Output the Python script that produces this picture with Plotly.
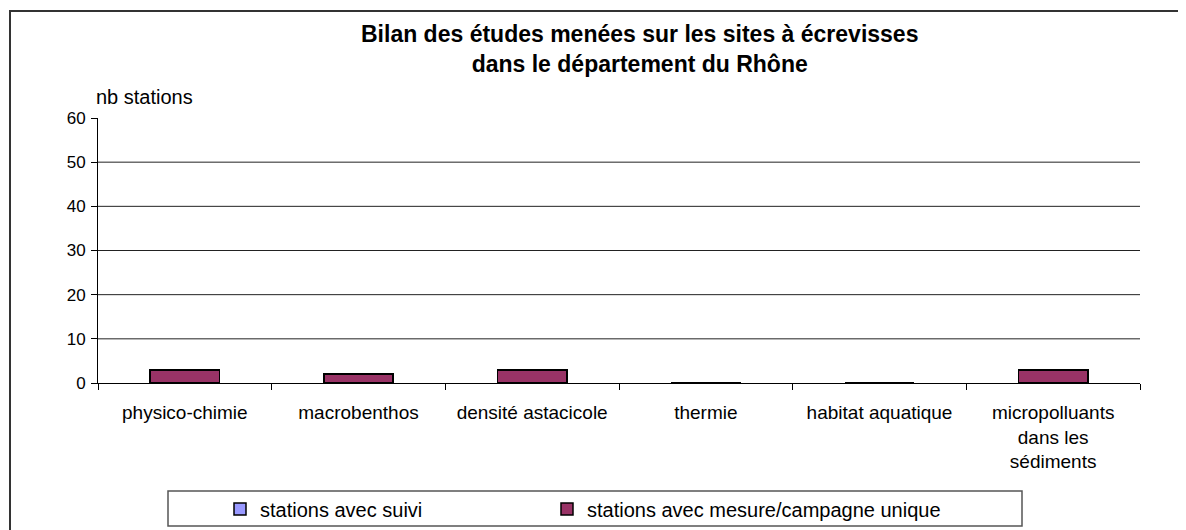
import plotly.graph_objects as go

categories = ["physico-chimie", "macrobenthos", "densité astacicole", "thermie",
              "habitat aquatique", "micropolluants<br>dans les<br>sédiments"]
suivi = [0, 0, 0, 0, 0, 0]
unique = [3, 2, 3, 0, 0, 3]
series_names = ["stations avec suivi", "stations avec mesure/campagne unique"]
title_lines = ["Bilan des études menées sur les sites à écrevisses",
               "dans le département du Rhône"]
y_title = "nb stations"
y_ticks = [0, 10, 20, 30, 40, 50, 60]
grid_vals = [10, 20, 30, 40, 50]

# page offset of the default html body margin
OFF = 8
W, H = 1186 - OFF, 530 - OFF
L, T = 98 - OFF, 118 - OFF
R = W - (1140 - OFF)
B = H - (383 - OFF)
PW, PH = W - L - R, H - T - B

def px_x(x):  # page pixel -> paper
    return (x - OFF - L) / PW

def px_y(y):
    return (H - B - (y - OFF)) / PH

FONT = "Liberation Sans, Arial, sans-serif"

fig = go.Figure()
fig.add_trace(go.Bar(x=categories, y=suivi, name=series_names[0], width=0.4, legend="legend",
                     marker=dict(color="#9999FF", line=dict(color="black", width=1.5))))
fig.add_trace(go.Bar(x=categories, y=unique, name=series_names[1], width=0.4, legend="legend2",
                     marker=dict(color="#993366", line=dict(color="black", width=1.5))))

shapes = []
for g in grid_vals:
    shapes.append(dict(type="line", xref="paper", yref="y", x0=0, x1=1, y0=g, y1=g,
                       line=dict(color="#222222", width=1), layer="below"))
# outer frame
shapes.append(dict(type="rect", xref="paper", yref="paper",
                   x0=px_x(10), x1=px_x(1230), y0=px_y(11), y1=px_y(580),
                   line=dict(color="#333333", width=2)))
# legend box
shapes.append(dict(type="rect", xref="paper", yref="paper",
                   x0=px_x(168), x1=px_x(1022), y0=px_y(491), y1=px_y(526),
                   line=dict(color="#555555", width=1.5)))

annotations = [
    dict(text="<b>%s<br>%s</b>" % (title_lines[0], title_lines[1]), xref="paper", yref="paper",
         x=px_x(639), y=px_y(49), xanchor="center", yanchor="middle", showarrow=False,
         font=dict(size=23, family=FONT, color="black")),
    dict(text=y_title, xref="paper", yref="paper", x=px_x(94), y=px_y(97),
         xanchor="left", yanchor="middle", showarrow=False,
         font=dict(size=20, family=FONT, color="black")),
]

legend_common = dict(orientation="h", xanchor="left", yanchor="middle",
                     bgcolor="rgba(0,0,0,0)", borderwidth=0, font=dict(size=20),
                     itemwidth=30)

fig.update_layout(
    width=W, height=H,
    margin=dict(l=L, r=R, t=T, b=B, autoexpand=False),
    paper_bgcolor="white", plot_bgcolor="white",
    barmode="stack",
    font=dict(family=FONT, color="black", size=17),
    xaxis=dict(type="category", showline=True, linecolor="black", linewidth=1,
               ticks="outside", ticklen=6, tickcolor="black", tickson="boundaries",
               showgrid=False, tickfont=dict(size=19), ticklabelstandoff=12, fixedrange=True),
    yaxis=dict(range=[0, 60], tickvals=y_ticks, showline=True, linecolor="black", linewidth=1,
               ticks="outside", ticklen=6, tickcolor="black", showgrid=False,
               zeroline=False, tickfont=dict(size=17), ticklabelstandoff=2, fixedrange=True),
    showlegend=True,
    legend=dict(x=px_x(220), y=px_y(509), **legend_common),
    legend2=dict(x=px_x(547), y=px_y(509), **legend_common),
    shapes=shapes,
    annotations=annotations,
)

fig.write_html("out.html")
